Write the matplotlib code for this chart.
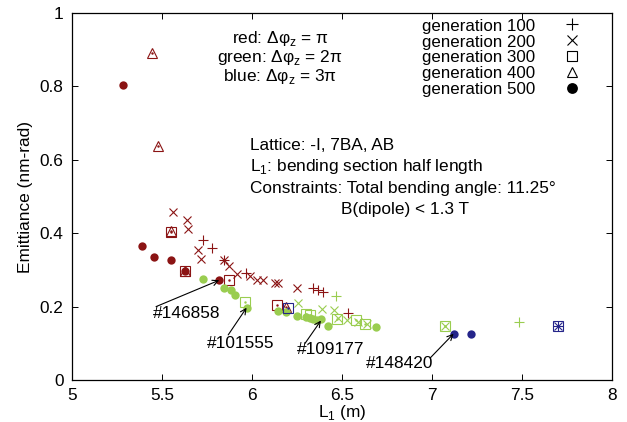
import matplotlib
matplotlib.use("Agg")
import matplotlib.pyplot as plt
from matplotlib.ticker import FormatStrFormatter, MultipleLocator

plt.rcParams["font.family"] = ["Liberation Sans", "DejaVu Sans"]
plt.rcParams["font.size"] = 12.4

RED = "#8b1414"
GREEN = "#9acd50"
BLUE = "#25258a"

# red: dphi_z = pi
red_g100_x = [5.726, 5.776, 5.846, 5.967, 6.337, 6.368, 6.393, 6.535]
red_g100_y = [0.381, 0.361, 0.327, 0.292, 0.250, 0.245, 0.241, 0.183]
red_g200_x = [5.563, 5.640, 5.646, 5.700, 5.717, 5.846, 5.874, 5.915, 5.990,
              6.026, 6.063, 6.128, 6.146, 6.248]
red_g200_y = [0.457, 0.436, 0.411, 0.354, 0.331, 0.327, 0.311, 0.289, 0.283,
              0.272, 0.272, 0.265, 0.265, 0.250]
red_g300_x = [5.548, 5.630, 5.874, 6.137]
red_g300_y = [0.403, 0.297, 0.272, 0.204]
red_g400_x = [5.446, 5.480, 5.548, 5.630, 6.190]
red_g400_y = [0.890, 0.637, 0.405, 0.297, 0.200]
red_g500_x = [5.283, 5.387, 5.456, 5.552, 5.630, 5.818]
red_g500_y = [0.804, 0.365, 0.336, 0.326, 0.297, 0.272]

# green: dphi_z = 2 pi
green_g100_x = [6.467, 7.485]
green_g100_y = [0.228, 0.158]
green_g200_x = [6.257, 6.387, 6.456, 6.480, 6.530, 6.590, 6.640, 7.070]
green_g200_y = [0.209, 0.193, 0.191, 0.168, 0.163, 0.159, 0.154, 0.147]
green_g300_x = [5.960, 6.300, 6.320, 6.470, 6.580, 6.630, 7.070]
green_g300_y = [0.213, 0.180, 0.177, 0.165, 0.163, 0.154, 0.147]
green_g500_x = [5.730, 5.845, 5.885, 5.903, 5.970, 6.146, 6.190, 6.250,
                6.300, 6.320, 6.340, 6.360, 6.383, 6.424, 6.690]
green_g500_y = [0.276, 0.250, 0.246, 0.232, 0.195, 0.188, 0.184, 0.174,
                0.171, 0.168, 0.165, 0.163, 0.165, 0.147, 0.145]

# blue: dphi_z = 3 pi
blue_g100_x = [7.700]
blue_g100_y = [0.147]
blue_g200_x = [7.700]
blue_g200_y = [0.147]
blue_g300_x = [6.200, 7.700]
blue_g300_y = [0.196, 0.147]
blue_g500_x = [7.120, 7.217]
blue_g500_y = [0.126, 0.126]

# annotations: label, text position, arrow tail, arrow head
ann_labels = ["#146858", "#101555", "#109177", "#148420"]
ann_text_xy = [(5.637, 0.182), (5.936, 0.100), (6.440, 0.082), (6.820, 0.044)]
ann_tail_xy = [(5.467, 0.200), (5.868, 0.123), (6.295, 0.100), (6.990, 0.060)]
ann_head_xy = [(5.818, 0.272), (5.970, 0.197), (6.383, 0.162), (7.120, 0.126)]

fig = plt.figure(figsize=(6.27, 4.22), dpi=100)
ax = fig.add_axes([0.1148, 0.0995, 0.8612, 0.8695])

ms = 6
lw = 0.8


def draw_set(color, g100, g200, g300, g400, g500):
    if g100:
        ax.plot(*g100, ls="none", marker="+", ms=ms + 1, mew=lw, color=color)
    if g200:
        ax.plot(*g200, ls="none", marker="x", ms=ms, mew=lw, color=color)
    if g300:
        ax.plot(*g300, ls="none", marker="s", ms=ms + 0.5, mew=lw, mfc="none", mec=color)
        ax.plot(*g300, ls="none", marker=".", ms=1.5, color=color)
    if g400:
        ax.plot(*g400, ls="none", marker="^", ms=ms + 0.5, mew=lw, mfc="none", mec=color)
        ax.plot(*g400, ls="none", marker=".", ms=1.5, color=color)
    if g500:
        ax.plot(*g500, ls="none", marker="o", ms=ms, mew=0, color=color)


draw_set(RED, (red_g100_x, red_g100_y), (red_g200_x, red_g200_y),
         (red_g300_x, red_g300_y), (red_g400_x, red_g400_y), (red_g500_x, red_g500_y))
draw_set(GREEN, (green_g100_x, green_g100_y), (green_g200_x, green_g200_y),
         (green_g300_x, green_g300_y), None, (green_g500_x, green_g500_y))
draw_set(BLUE, (blue_g100_x, blue_g100_y), (blue_g200_x, blue_g200_y),
         (blue_g300_x, blue_g300_y), None, (blue_g500_x, blue_g500_y))

# legend handles in black
h1, = ax.plot([], [], ls="none", marker="+", ms=ms + 1, mew=lw, color="black")
h2, = ax.plot([], [], ls="none", marker="x", ms=ms, mew=lw, color="black")
h3, = ax.plot([], [], ls="none", marker="s", ms=ms - 0.5, mew=lw, mfc="none", mec="black")
h4, = ax.plot([], [], ls="none", marker="^", ms=ms - 0.5, mew=lw, mfc="none", mec="black")
h5, = ax.plot([], [], ls="none", marker="o", ms=ms, mew=0, color="black")
ax.legend([h1, h2, h3, h4, h5],
          ["generation 100", "generation 200", "generation 300",
           "generation 400", "generation 500"],
          loc="upper right", bbox_to_anchor=(0.949, 0.987), markerfirst=False,
          frameon=False, borderpad=0, borderaxespad=0, labelspacing=0.0,
          handlelength=1.5, handletextpad=1.4, markerscale=1.3,
          fontsize=12.2, handleheight=0.9)

for lab, txy, tail, head in zip(ann_labels, ann_text_xy, ann_tail_xy, ann_head_xy):
    ax.annotate("", xy=head, xytext=tail,
                arrowprops=dict(arrowstyle="->", lw=0.8, color="black",
                                shrinkA=0, shrinkB=0, mutation_scale=10))
    ax.text(txy[0], txy[1], lab, ha="center", va="center")

# phase advance notes
ax.text(6.156, 0.880,
        "red: Δφ$_\\mathregular{z}$ = π\n"
        "green: Δφ$_\\mathregular{z}$ = 2π\n"
        "blue: Δφ$_\\mathregular{z}$ = 3π",
        ha="center", va="center", multialignment="center", linespacing=1.0)

ax.text(5.99, 0.640, "Lattice: -I, 7BA, AB", ha="left", va="center")
ax.text(5.99, 0.582, "L$_\\mathregular{1}$: bending section half length", ha="left", va="center")
ax.text(5.99, 0.522, "Constraints: Total bending angle: 11.25°", ha="left", va="center")
ax.text(6.494, 0.466, "B(dipole) < 1.3 T", ha="left", va="center")

ax.set_xlim(5, 8)
ax.set_ylim(0, 1)
ax.xaxis.set_major_locator(MultipleLocator(0.5))
ax.yaxis.set_major_locator(MultipleLocator(0.2))
ax.xaxis.set_major_formatter(FormatStrFormatter("%g"))
ax.yaxis.set_major_formatter(FormatStrFormatter("%g"))
ax.tick_params(direction="in", top=True, right=True, length=4, width=0.7,
               labelsize=12.4, pad=6)
for s in ax.spines.values():
    s.set_linewidth(0.9)

ax.set_xlabel("L$_\\mathregular{1}$ (m)", labelpad=0)
ax.set_ylabel("Emittiance (nm-rad)", labelpad=5)

fig.savefig("out.png", dpi=100)
